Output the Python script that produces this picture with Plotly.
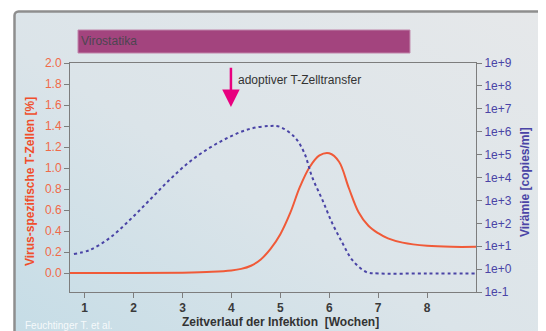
import base64
import plotly.graph_objects as go

# ---- data ----
tcell_x = [0.7, 2.0, 3.0, 3.6, 4.0, 4.2, 4.4, 4.6, 4.8, 5.0, 5.2, 5.4, 5.6, 5.8, 6.0,
           6.2, 6.4, 6.6, 6.8, 7.0, 7.2, 7.5, 8.0, 8.5, 9.0]
tcell_y = [0.0, 0.0, 0.004, 0.012, 0.025, 0.04, 0.07, 0.13, 0.23, 0.37, 0.57, 0.82, 1.01, 1.12, 1.14,
           1.06, 0.81, 0.58, 0.45, 0.38, 0.33, 0.29, 0.26, 0.25, 0.25]

viraemia_x = [0.78, 1.1, 1.51, 1.92, 2.33, 2.73, 3.14, 3.55, 3.96, 4.37, 4.78, 4.98,
              5.29, 5.49, 5.65, 5.86, 6.06, 6.27, 6.47, 6.76, 7.02, 8.0, 9.0]
viraemia_log10 = [0.66, 0.83, 1.36, 2.14, 3.02, 3.89, 4.68, 5.29, 5.77, 6.12, 6.25, 6.22,
                  5.77, 5.07, 4.02, 3.02, 2.01, 1.14, 0.4, -0.13, -0.19, -0.19, -0.19]
viraemia = [10 ** v for v in viraemia_log10]

x_ticks = [1, 2, 3, 4, 5, 6, 7, 8]
left_ticks = [0.0, 0.2, 0.4, 0.6, 0.8, 1.0, 1.2, 1.4, 1.6, 1.8, 2.0]
right_exp = [-1, 0, 1, 2, 3, 4, 5, 6, 7, 8, 9]
right_ticktext = ["1e%+d" % e for e in right_exp]

therapy_label = "Virostatika"
therapy_start, therapy_end = 0.864, 7.65
transfer_label = "adoptiver T-Zelltransfer"
transfer_week = 3.99

# page body has an 8px margin; figure is sized/offset to compensate
OFF = 8
W, H = 546 - OFF, 331 - OFF
ML, MR, MT, MB = 62, 70, 55, 39
PW, PH = W - ML - MR, H - MT - MB

ORANGE_LINE = "#f05a38"
ORANGE_TXT = "#f06a48"
BLUE = "#4a44a6"
AXIS = "#7d7d7d"
FONT = "Liberation Sans, Arial, sans-serif"

def px_x(p):  # p: pixel in reference picture
    return (p - OFF - ML) / PW

def px_y(p):
    return 1 - (p - OFF - MT) / PH

svg = ('<svg xmlns="http://www.w3.org/2000/svg" width="%d" height="%d">'
       '<defs><linearGradient id="g" x1="0" y1="1" x2="1" y2="0">'
       '<stop offset="0" stop-color="#c4dce6"/><stop offset="0.45" stop-color="#dbe4e9"/>'
       '<stop offset="1" stop-color="#e6e8ea"/></linearGradient></defs>'
       '<rect x="6.5" y="3.5" width="527" height="340" rx="4" fill="url(#g)" '
       'stroke="#8e8e8e" stroke-width="2.5"/></svg>') % (W, H)
src = "data:image/svg+xml;base64," + base64.b64encode(svg.encode()).decode()

fig = go.Figure()
fig.add_trace(go.Scatter(x=tcell_x, y=tcell_y, mode="lines", line=dict(color=ORANGE_LINE, width=2, shape="spline"),
                         yaxis="y", showlegend=False, hoverinfo="skip"))
fig.add_trace(go.Scatter(x=viraemia_x, y=viraemia, mode="lines",
                         line=dict(color=BLUE, width=2, dash="dot", shape="spline"),
                         yaxis="y2", showlegend=False, hoverinfo="skip"))

fig.update_layout(
    width=W, height=H,
    margin=dict(l=ML, r=MR, t=MT, b=MB),
    paper_bgcolor="white", plot_bgcolor="rgba(0,0,0,0)",
    font=dict(family=FONT, size=12),
    xaxis=dict(range=[0.7, 9.0], tickvals=x_ticks, ticktext=["<b>%d</b>" % t for t in x_ticks],
               showgrid=False, zeroline=False, showline=True, linecolor=AXIS, linewidth=1,
               mirror=True, ticks="outside", ticklen=5, tickcolor=AXIS,
               tickfont=dict(color="#3a3a3a", size=12)),
    yaxis=dict(range=[-0.18, 2.0], tickvals=left_ticks, tickformat=".1f",
               showgrid=False, zeroline=False, showline=True, linecolor=AXIS, linewidth=1,
               ticks="outside", ticklen=5, tickcolor=AXIS,
               tickfont=dict(color=ORANGE_TXT, size=12)),
    yaxis2=dict(type="log", range=[-1, 9], overlaying="y", side="right",
                tickvals=[10 ** e for e in right_exp], ticktext=right_ticktext,
                showgrid=False, zeroline=False, showline=True, linecolor=AXIS, linewidth=1,
                ticks="outside", ticklen=5, tickcolor=AXIS,
                tickfont=dict(color=BLUE, size=12)),
    images=[dict(source=src, xref="paper", yref="paper", x=-ML / PW, y=1 + MT / PH,
                 sizex=W / PW, sizey=H / PH, sizing="stretch", xanchor="left", yanchor="top",
                 layer="below")],
)

fig.add_shape(type="rect", xref="x", yref="paper", x0=therapy_start, x1=therapy_end,
              y0=px_y(53), y1=px_y(30), fillcolor="#a3447e", line=dict(color="#c084aa", width=1),
              layer="above")
fig.add_annotation(xref="x", yref="paper", x=therapy_start + 0.03, y=px_y(41.5), text=therapy_label,
                   showarrow=False, xanchor="left", yanchor="middle",
                   font=dict(color="#4d4550", size=12))

fig.add_annotation(xref="x", yref="y", x=transfer_week, y=1.58, ax=transfer_week, ay=1.97,
                   axref="x", ayref="y", text="", showarrow=True, arrowhead=2, arrowsize=1.4,
                   arrowwidth=2.5, arrowcolor="#e8007f")
fig.add_annotation(xref="x", yref="y", x=transfer_week + 0.1, y=1.84, text=transfer_label,
                   showarrow=False, xanchor="left", yanchor="middle",
                   font=dict(color="#333333", size=12))

fig.add_annotation(xref="paper", yref="paper", x=px_x(30), y=px_y(182),
                   text="<b>Virus-spezifische T-Zellen [%]</b>", textangle=-90, showarrow=False,
                   xanchor="center", yanchor="middle", font=dict(color="#f04e2c", size=12))
fig.add_annotation(xref="paper", yref="paper", x=px_x(525), y=px_y(182),
                   text="<b>Virämie [copies/ml]</b>", textangle=-90, showarrow=False,
                   xanchor="center", yanchor="middle", font=dict(color=BLUE, size=12))
fig.add_annotation(xref="paper", yref="paper", x=px_x(280), y=px_y(322),
                   text="<b>Zeitverlauf der Infektion  [Wochen]</b>", showarrow=False,
                   xanchor="center", yanchor="middle", font=dict(color="#333333", size=12))
fig.add_annotation(xref="paper", yref="paper", x=px_x(23), y=px_y(325),
                   text="Feuchtinger T. et al.", showarrow=False,
                   xanchor="left", yanchor="middle", font=dict(color="rgba(255,255,255,0.85)", size=10))

fig.write_html("out.html")
